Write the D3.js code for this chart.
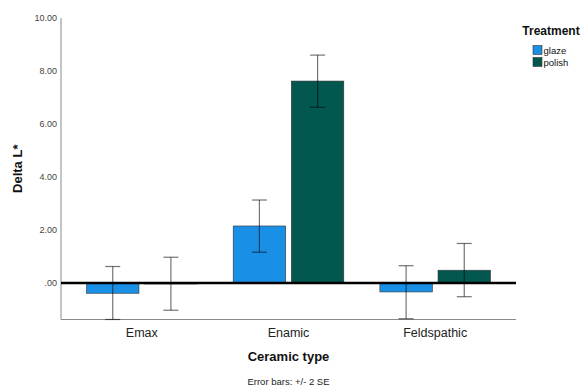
<!DOCTYPE html>
<html><head><meta charset="utf-8">
<script src="https://cdn.jsdelivr.net/npm/d3@7"></script>
<style>body{margin:0;background:#fff}svg{display:block;font-family:"Liberation Sans",Arial,sans-serif}</style>
</head><body>
<svg id="c" width="586" height="389"></svg>
<script>
const categories = ["Emax", "Enamic", "Feldspathic"];
const treatments = ["glaze", "polish"];
const glazeMean = [-0.39, 2.15, -0.34];
const polishMean = [-0.04, 7.62, 0.48];
const glazeLow = [-1.40, 1.16, -1.35];
const glazeHigh = [0.62, 3.13, 0.65];
const polishLow = [-1.03, 6.63, -0.52];
const polishHigh = [0.97, 8.60, 1.49];
const yTicks = [0, 2, 4, 6, 8, 10];
const colors = ["#1a8fe6", "#02574f"];

const svg = d3.select("#c");
const L = 61, R = 516, T = 18, B = 319.5;
const y = d3.scaleLinear().domain([-1.38, 10]).range([B, T]);
const x0 = d3.scaleBand().domain(categories).range([L, R]).paddingInner(0.246).paddingOuter(0.174);
const x1 = d3.scaleBand().domain(treatments).range([0, x0.bandwidth()]).paddingInner(0.098);

const rows = [];
categories.forEach((c, i) => {
  rows.push({c, t: "glaze", v: glazeMean[i], lo: glazeLow[i], hi: glazeHigh[i]});
  rows.push({c, t: "polish", v: polishMean[i], lo: polishLow[i], hi: polishHigh[i]});
});
const color = d3.scaleOrdinal().domain(treatments).range(colors);

// axes
const yAxis = d3.axisLeft(y).tickValues(yTicks).tickSize(0).tickPadding(4)
  .tickFormat(d => d === 0 ? ".00" : d3.format(".2f")(d));
const gy = svg.append("g").attr("transform", `translate(${L},0)`).call(yAxis);
gy.select(".domain").attr("stroke", "#8a8a8a").attr("stroke-width", 1).attr("d", `M0,${B}V${T}`);
gy.selectAll("text").attr("font-size", 9).attr("fill", "#444").attr("font-family", "Liberation Sans, Arial");

const xAxis = d3.axisBottom(x0).tickSize(0).tickPadding(9);
const gx = svg.append("g").attr("transform", `translate(0,${B})`).call(xAxis);
gx.select(".domain").attr("stroke", "#8a8a8a").attr("stroke-width", 1).attr("d", `M${L},0H${R}`);
gx.selectAll("text").attr("font-size", 12.5).attr("fill", "#222").attr("font-family", "Liberation Sans, Arial");

// bars
svg.append("g").selectAll("rect").data(rows).join("rect")
  .attr("x", d => x0(d.c) + x1(d.t))
  .attr("width", x1.bandwidth())
  .attr("y", d => y(Math.max(0, d.v)))
  .attr("height", d => Math.abs(y(d.v) - y(0)))
  .attr("fill", d => color(d.t))
  .attr("stroke", "#333").attr("stroke-width", 0.6);

// zero line
svg.append("line").attr("x1", L).attr("x2", R).attr("y1", y(0)).attr("y2", y(0))
  .attr("stroke", "#000").attr("stroke-width", 2.5);

// error bars
const eb = svg.append("g").attr("stroke", "#000").attr("stroke-opacity", 0.55).attr("stroke-width", 1.2);
const cap = 7.5;
rows.forEach(d => {
  const cx = x0(d.c) + x1(d.t) + x1.bandwidth() / 2;
  const lo = Math.max(d.lo, y.domain()[0]);
  eb.append("line").attr("x1", cx).attr("x2", cx).attr("y1", y(d.hi)).attr("y2", y(lo));
  eb.append("line").attr("x1", cx - cap).attr("x2", cx + cap).attr("y1", y(d.hi)).attr("y2", y(d.hi));
  eb.append("line").attr("x1", cx - cap).attr("x2", cx + cap).attr("y1", y(lo)).attr("y2", y(lo));
});

// titles
svg.append("text").attr("x", (L + R) / 2 + 0).attr("y", 361).attr("text-anchor", "middle")
  .attr("font-size", 13).attr("font-weight", "bold").attr("fill", "#111").text("Ceramic type");
svg.append("text").attr("transform", `translate(22,${(T + B) / 2}) rotate(-90)`).attr("text-anchor", "middle")
  .attr("font-size", 13).attr("font-weight", "bold").attr("fill", "#111").text("Delta L*");
svg.append("text").attr("x", (L + R) / 2).attr("y", 385).attr("text-anchor", "middle")
  .attr("font-size", 9.5).attr("fill", "#222").text("Error bars: +/- 2 SE");

// legend
const lg = svg.append("g");
lg.append("text").attr("x", 551).attr("y", 35).attr("text-anchor", "middle")
  .attr("font-size", 12).attr("font-weight", "bold").attr("fill", "#111").text("Treatment");
treatments.forEach((t, i) => {
  lg.append("rect").attr("x", 533).attr("y", 45.5 + i * 12).attr("width", 9).attr("height", 9)
    .attr("fill", color(t)).attr("stroke", "#333").attr("stroke-width", 0.6);
  lg.append("text").attr("x", 543.5).attr("y", 53.5 + i * 12).attr("font-size", 9.5).attr("fill", "#111").text(t);
});
</script>
</body></html>
